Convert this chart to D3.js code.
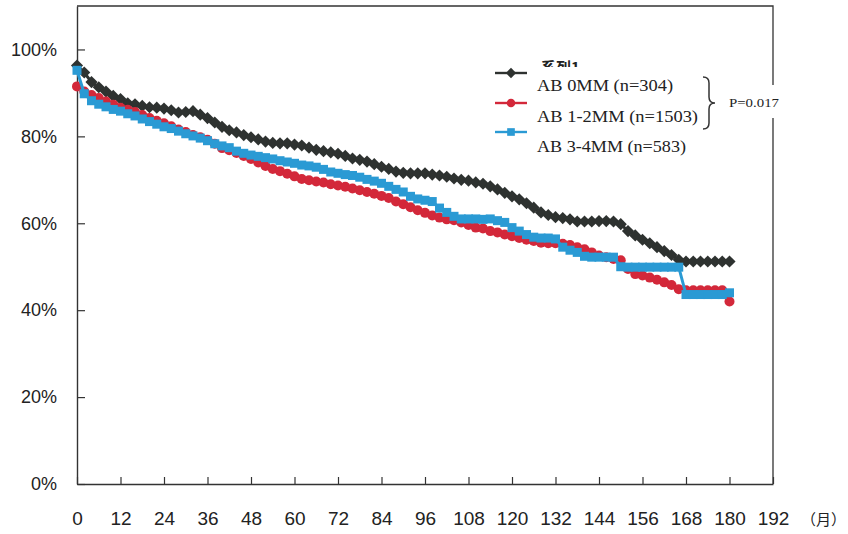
<!DOCTYPE html>
<html>
<head>
<meta charset="utf-8">
<script src="https://cdn.jsdelivr.net/npm/d3@7"></script>
<style>
  html, body { margin: 0; padding: 0; background: #ffffff; }
  svg { display: block; }
</style>
</head>
<body>
<svg id="chart" width="848" height="534"></svg>
<script>
// ---- Data ----
const months = d3.range(0, 181, 2); // 0,2,...,180 months
const seriesNames = ["AB 0MM (n=304)", "AB 1-2MM (n=1503)", "AB 3-4MM (n=583)"];
const ab0mm = [96.3,94.7,92.5,91.3,90.3,89.3,88.6,87.6,87.4,87.0,86.7,86.6,86.4,86.0,85.5,85.6,85.8,85.0,84.2,83.2,
  82.2,81.4,80.9,80.3,79.8,79.3,78.8,78.5,78.4,78.4,78.1,77.9,77.4,76.9,76.6,76.3,76.0,75.5,74.9,74.6,
  74.2,73.6,73.0,72.5,71.9,71.6,71.5,71.5,71.5,71.2,71.0,70.7,70.3,70.0,69.8,69.4,69.1,68.5,67.8,67.0,
  66.2,65.5,64.6,63.6,62.5,61.9,61.4,61.2,60.9,60.4,60.4,60.4,60.5,60.5,60.4,59.8,58.2,57.2,56.2,55.4,
  54.5,53.6,52.7,51.6,51.2,51.2,51.2,51.2,51.2,51.2,51.2];
const ab12mm = [91.5,90.3,89.5,88.8,88.0,87.3,86.6,86.1,85.6,84.9,84.2,83.6,83.0,82.3,81.6,81.0,80.3,79.8,79.2,78.3,
  77.3,76.8,76.2,75.5,74.8,74.0,73.2,72.5,72.0,71.4,70.8,70.2,69.9,69.6,69.4,69.0,68.7,68.4,68.0,67.6,
  67.2,66.8,66.3,65.8,65.0,64.4,63.7,63.0,62.4,61.8,61.3,60.9,60.7,60.2,59.6,59.0,58.8,58.2,57.9,57.4,
  57.0,56.6,56.2,55.9,55.5,55.4,55.4,55.3,55.0,54.5,54.0,53.3,52.6,52.2,51.8,51.5,49.5,48.3,48.0,47.5,
  47.0,46.4,45.8,44.8,44.6,44.6,44.6,44.6,44.6,44.6,42.0];
const ab34mm = [95.2,89.8,88.2,87.4,86.8,86.2,85.8,85.2,84.7,84.0,83.4,82.8,82.2,81.8,81.2,80.6,80.1,79.6,79.0,78.3,
  77.8,77.4,76.6,76.1,75.7,75.4,75.1,74.8,74.4,74.1,73.8,73.4,73.2,72.9,72.4,71.8,71.5,71.2,71.0,70.6,
  70.1,69.7,69.2,68.5,67.8,67.2,66.2,65.6,65.3,65.0,63.5,62.5,61.6,61.0,61.0,61.0,60.9,61.0,60.6,60.2,
  59.0,58.2,57.4,56.8,56.6,56.6,56.4,54.5,53.8,53.3,52.4,52.2,52.2,52.2,52.2,50.0,49.9,49.9,49.9,49.9,
  49.9,49.9,49.9,49.9,43.6,43.6,43.6,43.6,43.6,43.6,44.0];
const xTicks = d3.range(0, 193, 12);
const yTicks = [0, 20, 40, 60, 80, 100];
const pValueLabel = "P=0.017";
const hiddenSeriesLabel = "系列1";
const unitLabel = "（月）";

// ---- Layout ----
const svg = d3.select("#chart");
const X0 = 77, X1 = 773, Y0 = 484, Y1 = 6;
const x = d3.scaleLinear().domain([0, 192]).range([X0, X1]);
const y = d3.scaleLinear().domain([0, 110]).range([Y0, Y1]);
const axisColor = "#333";

svg.append("rect").attr("width", 848).attr("height", 534).attr("fill", "#fff");

// frame: top + right (with gap for P value)
svg.append("path")
  .attr("d", `M${X0},${Y1}H${X1}V85 M${X1},118V${Y0}`)
  .attr("fill", "none").attr("stroke", axisColor).attr("stroke-width", 1.3);

// y axis
const yAxis = d3.axisLeft(y).tickValues(yTicks).tickFormat(d => d + "%")
  .tickSizeInner(-8).tickSizeOuter(0).tickPadding(20);
const gy = svg.append("g").attr("transform", `translate(${X0},0)`).call(yAxis);
gy.select(".domain").attr("stroke", axisColor).attr("stroke-width", 1.4);
gy.selectAll(".tick line").attr("stroke", axisColor).attr("stroke-width", 1.2);
gy.selectAll(".tick text").attr("font-family", "'Liberation Sans', Arial, sans-serif")
  .attr("font-size", 18).attr("fill", "#222");

// x axis
const xAxis = d3.axisBottom(x).tickValues(xTicks)
  .tickSizeInner(-7).tickSizeOuter(0).tickPadding(28);
const gx = svg.append("g").attr("transform", `translate(0,${Y0})`).call(xAxis);
gx.select(".domain").attr("stroke", axisColor).attr("stroke-width", 1.4);
gx.selectAll(".tick line").attr("stroke", axisColor).attr("stroke-width", 1.2);
gx.selectAll(".tick text").attr("font-family", "'Liberation Sans', Arial, sans-serif")
  .attr("font-size", 19).attr("fill", "#222");

svg.append("text").attr("x", 801).attr("y", 525)
  .attr("font-family", "'Noto Sans CJK JP', sans-serif").attr("font-size", 15).attr("fill", "#222")
  .text(unitLabel);

// ---- Series ----
const series = [
  { name: seriesNames[0], values: ab0mm, color: "#2e3230", shape: "diamond" },
  { name: seriesNames[1], values: ab12mm, color: "#d3283a", shape: "circle" },
  { name: seriesNames[2], values: ab34mm, color: "#2a9ad4", shape: "square" }
];

function marker(g, shape, color, cx, cy, scale) {
  const s = scale || 1;
  if (shape === "diamond") {
    g.append("rect").attr("x", -4.3 * s).attr("y", -4.3 * s).attr("width", 8.6 * s).attr("height", 8.6 * s)
      .attr("transform", `translate(${cx},${cy}) rotate(45)`).attr("fill", color);
  } else if (shape === "circle") {
    g.append("circle").attr("cx", cx).attr("cy", cy).attr("r", 5 * s).attr("fill", color);
  } else {
    g.append("rect").attr("x", cx - 4.5 * s).attr("y", cy - 4.5 * s).attr("width", 9 * s).attr("height", 9 * s).attr("fill", color);
  }
}

const line = d3.line().x(d => x(d[0])).y(d => y(d[1]));
series.forEach(s => {
  const pts = months.map((m, i) => [m, s.values[i]]);
  const g = svg.append("g");
  g.append("path").attr("d", line(pts)).attr("fill", "none")
    .attr("stroke", s.color).attr("stroke-width", 3);
  pts.forEach(p => marker(g, s.shape, s.color, x(p[0]), y(p[1])));
});

// ---- Legend ----
const clip = svg.append("defs").append("clipPath").attr("id", "clipTitle");
clip.append("rect").attr("x", 530).attr("y", 55).attr("width", 100).attr("height", 12);
svg.append("text").attr("x", 541).attr("y", 73).attr("clip-path", "url(#clipTitle)")
  .attr("font-family", "'Noto Sans CJK JP', sans-serif").attr("font-size", 15).attr("font-weight", "bold")
  .attr("fill", "#222").text(hiddenSeriesLabel);

const legY = [73, 103, 132];
const legTextY = [91, 122, 152];
const legLen = [136, 161, 149];
series.forEach((s, i) => {
  const g = svg.append("g");
  g.append("line").attr("x1", 495).attr("x2", 527).attr("y1", legY[i]).attr("y2", legY[i])
    .attr("stroke", s.color).attr("stroke-width", 2.4);
  marker(g, s.shape, s.color, 511, legY[i], 0.85);
  g.append("text").attr("x", 537).attr("y", legTextY[i])
    .attr("font-family", "'Liberation Serif', 'Times New Roman', serif").attr("font-size", 16)
    .attr("fill", "#222").attr("textLength", legLen[i]).attr("lengthAdjust", "spacingAndGlyphs")
    .text(s.name);
});

// brace + p value
svg.append("path")
  .attr("d", "M703,77 Q709,77 709,83 L709,97 Q709,103 715,103 Q709,103 709,109 L709,123 Q709,129 703,129")
  .attr("fill", "none").attr("stroke", "#333").attr("stroke-width", 1.5);
svg.append("text").attr("x", 729).attr("y", 107)
  .attr("font-family", "'Liberation Serif', 'Times New Roman', serif").attr("font-size", 12)
  .attr("fill", "#222").attr("textLength", 50).attr("lengthAdjust", "spacingAndGlyphs")
  .text(pValueLabel);
</script>
</body>
</html>
